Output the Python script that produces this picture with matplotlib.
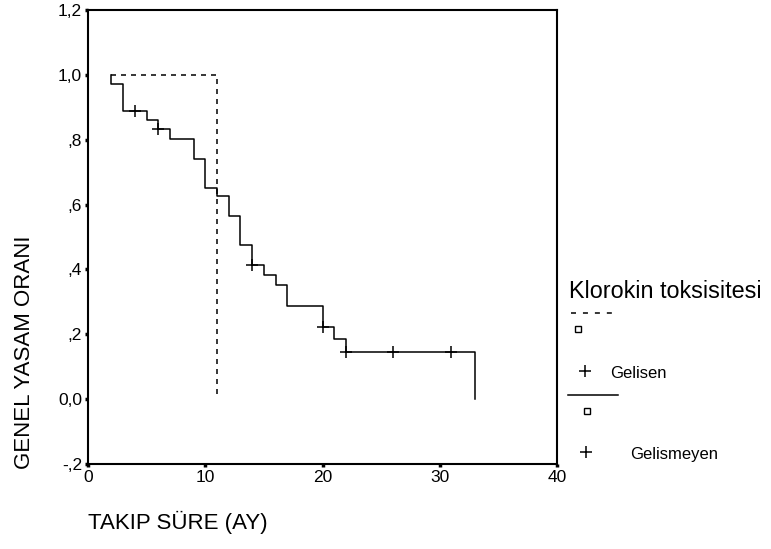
import matplotlib
matplotlib.use("Agg")
import matplotlib.pyplot as plt
from matplotlib.lines import Line2D

plt.rcParams['font.family'] = ['Liberation Sans', 'DejaVu Sans']
plt.rcParams['lines.scale_dashes'] = False

# Kaplan-Meier estimates (time in months, survival after each event)
gelisen_times = [2, 11]
gelisen_surv = [1.0, 0.0]

gelismeyen_times = [2, 2, 3, 5, 6, 7, 9, 10, 11, 12, 13, 14, 15, 16, 17, 20, 21, 22, 33]
gelismeyen_surv = [1.0, 0.973, 0.889, 0.861, 0.832, 0.801, 0.741, 0.652, 0.626,
                   0.565, 0.476, 0.415, 0.383, 0.351, 0.286, 0.222, 0.184, 0.146, 0.0]

# censored observations
censor_times = [4, 6, 14, 20, 22, 26, 31]
censor_surv = [0.889, 0.832, 0.415, 0.222, 0.146, 0.146, 0.146]

x_ticks = [0, 10, 20, 30, 40]
y_ticks = [-0.2, 0.0, 0.2, 0.4, 0.6, 0.8, 1.0, 1.2]
y_ticklabels = ['-,2', '0,0', ',2', ',4', ',6', ',8', '1,0', '1,2']

legend_title = 'Klorokin toksisitesi'
group_names = ['Gelisen', 'Gelismeyen']

W, H = 771, 549
fig = plt.figure(figsize=(W / 100, H / 100), dpi=100)
ax = fig.add_axes([88 / W, (H - 464) / H, (557 - 88) / W, (464 - 10) / H])

ax.step(gelismeyen_times, gelismeyen_surv, where='post', color='black', lw=1.1)
ax.step(gelisen_times, gelisen_surv, where='post', color='black', lw=1.1,
        dashes=(3.6, 3.6))
ax.plot(censor_times, censor_surv, ls='none', marker='+', ms=8, mew=1.1, color='black')

ax.set_xlim(0, 40)
ax.set_ylim(-0.2, 1.2)
ax.set_xticks(x_ticks)
ax.set_xticklabels([str(t) for t in x_ticks])
ax.set_yticks(y_ticks)
ax.set_yticklabels(y_ticklabels)
ax.tick_params(direction='out', length=2.2, width=2.5, labelsize=12.5, pad=2, color='black')
for s in ax.spines.values():
    s.set_linewidth(1.5)
    s.set_color('black')

# axis titles
fig.text(88 / W, (H - 522) / H, 'TAKIP SÜRE (AY)', fontsize=16, ha='left', va='center')
fig.text(25 / W, (H - 352) / H, 'GENEL YASAM ORANI', fontsize=16, rotation=90,
         ha='center', va='center')

# legend drawn in pixel coordinates
lg = fig.add_axes([0, 0, 1, 1], facecolor='none')
lg.set_xlim(0, W)
lg.set_ylim(H, 0)
lg.axis('off')
lg.text(569, 291, legend_title, fontsize=16.8, ha='left', va='center')
lg.add_line(Line2D([571, 618], [313, 313], color='black', lw=1.1, dashes=(3.6, 5.0)))
lg.plot([578], [329], ls='none', marker='s', ms=4.5, mfc='white', mec='black', mew=1.0)
lg.plot([585], [371], ls='none', marker='+', ms=8, mew=1.1, color='black')
lg.text(610, 373, group_names[0], fontsize=12, ha='left', va='center')
lg.add_line(Line2D([568, 618], [395, 395], color='black', lw=1.1))
lg.plot([587], [411], ls='none', marker='s', ms=4.5, mfc='white', mec='black', mew=1.0)
lg.plot([586], [452], ls='none', marker='+', ms=8, mew=1.1, color='black')
lg.text(630, 455, group_names[1], fontsize=12, ha='left', va='center')

fig.savefig('out.png', dpi=100, facecolor='white')
